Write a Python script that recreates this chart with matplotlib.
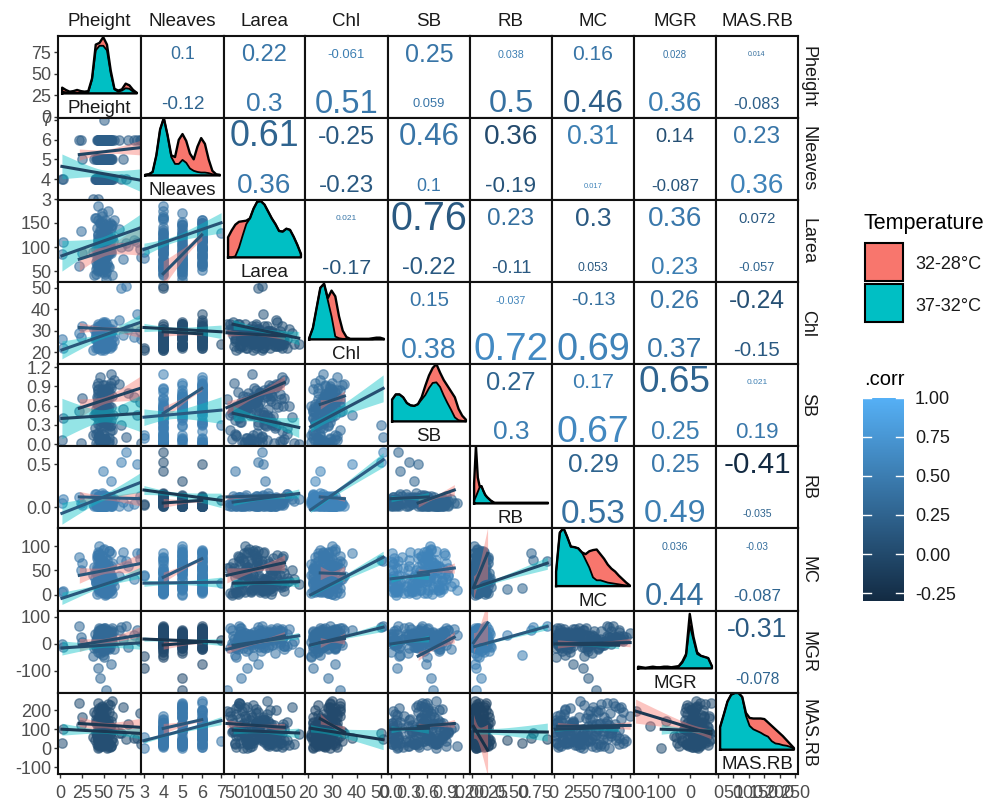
import matplotlib
matplotlib.use("Agg")
import matplotlib.pyplot as plt
from matplotlib.colors import LinearSegmentedColormap
from matplotlib.patches import Rectangle
import numpy as np

plt.rcParams["font.family"] = ["Liberation Sans", "DejaVu Sans"]

names = ["Pheight", "Nleaves", "Larea", "Chl", "SB", "RB", "MC", "MGR", "MAS.RB"]

# observations, group 32-28 first (42 rows) then 37-32 (42 rows)
pheight = [45,48,52,41,55,50,47,43,58,53, 49,44,56,51,46,60,42,54,48,57, 39,50,45,52,47,62,44,55,41,49, 53,46,58,43,51,22,25,68,72,78, 85,92,
           46,51,43,56,48,53,41,59,50,45, 54,47,40,52,44,57,49,61,46,42, 55,50,38,53,48,60,45,51,43,56, 47,52,41,58,49,2,3,24,70,76, 88,93]
nleaves = [5,6,6,5,6,5,6,5,6,6, 5,6,6,5,6,6,5,6,5,6, 5,6,5,6,5,6,6,5,4,6, 5,5,6,5,6,6,5,6,5,6, 6,6,
           4,4,4,5,4,4,4,5,4,4, 5,4,4,4,4,6,4,4,5,4, 4,6,3,4,4,5,4,7,3,4, 4,6,4,5,4,4,4,6,4,4, 6,6]
larea = [70,120,95,55,135,82,110,60,145,100, 48,125,90,75,150,118,65,105,58,130, 42,98,72,140,85,155,112,62,45,128, 35,65,100,92,122,60,88,138,76,102, 115,96,
         88,62,118,105,75,130,95,140,55,108, 125,68,160,83,185,150,72,112,135,58, 175,128,90,48,120,145,65,130,78,102, 92,155,70,115,52,85,110,133,100,108, 110,80]
chl = [28,30,32,26,29,31,27,33,30,28, 34,29,31,27,32,30,26,28,33,29, 31,27,30,34,28,25,32,29,30,27, 33,28,31,26,30,29,32,35,28,31, 27,30,
       25,23,27,24,22,26,28,24,21,25, 27,23,26,29,24,22,25,27,23,30, 24,26,21,28,25,23,27,24,22,29, 26,24,28,23,25,26,22,27,50,51, 38,26]
sb = [.62,.85,.70,.55,.88,.66,.78,.60,.95,.72, .52,.80,.74,.58,1.05,.75,.62,.82,.50,.90, .45,.68,.64,.92,.60,1.0,.84,.56,.48,.76, .70,.66,.58,.62,.86,.52,.72,.94,.54,.80, .74,.66,
      .05,.35,.45,.10,.55,.35,.02,.30,.60,.12, .40,.50,.25,.08,.0,.20,.03,.45,.28,.42, .02,.33,.14,.55,.42,.05,.62,.30,.10,.03, .0,.08,.48,.38,.15,.06,.40,.02,.30,.11, .45,.02]
rb = [.02,.05,.03,.01,.08,.04,.02,.06,.03,.01, .04,.02,.07,.03,.05,.02,.01,.06,.04,.03, .02,.08,.01,.05,.03,.1,.02,.04,.06,.01, .03,.07,.02,.05,.04,.12,.03,.02,.06,.01, .04,.13,
      .08,.12,.05,.1,.14,.07,.03,.11,.06,.13, .09,.04,.15,.08,.1,.06,.12,.05,.02,.11, .07,.09,.04,.13,.16,.06,.1,.08,.03,.12, .03,.05,.07,.3,.42,.05,.1,.05,.52,.64, .5,.09]
mc = [85,30,60,45,20,95,10,70,40,55, 65,15,90,50,25,35,75,5,80,42, 58,68,100,33,72,18,28,62,48,52, 55,45,25,82,12,78,66,38,88,59, 32,74,
      12,5,30,20,45,8,25,60,3,18, 40,10,35,15,22,55,6,28,50,2, 33,14,40,4,17,65,9,24,38,38, 19,7,27,12,15,5,8,50,72,70, 85,85]
mgr = [20,35,10,-10,45,25,5,30,50,15, -5,40,28,12,55,18,0,38,22,33, -15,8,42,60,26,-20,16,48,2,30, -170,-125,-75,24,44,65,6,52,19,-12, 34,11,
       -5,15,30,0,-25,40,8,20,-50,12, 25,-15,35,5,-30,18,2,45,-35,22, 10,55,-45,28,-10,6,58,16,-90,38, 10,-8,14,32,-40,0,-10,25,62,65, 50,28]
mas_rb = [210,60,130,180,95,40,150,240,85,125, 90,200,30,160,110,250,65,140,220,75, 190,105,170,40,120,100,50,230,155,70, 195,115,145,45,135,235,165,80,215,125, 55,185,
          95,30,15,120,40,85,130,10,65,55, 20,100,45,150,75,5,110,35,12,70, 25,90,60,130,22,50,85,40,0,100, 55,18,80,45,28,30,100,120,80,50, 55,20]
columns = [pheight, nleaves, larea, chl, sb, rb, mc, mgr, mas_rb]
n_first = 42

# further observations that fill the central clouds of the scatter panels
pheight_more = [44,47,50,53,46,49,52,55,43,48, 51,54,57,42,45,50,53,47,56,49, 44,52,46,59,48,51,43,55,50,47,
                53,45,58,49,52,41,54,46,50,48, 56,44,51,47,53,49,60,45,52,50, 46,54,42,57,49,51,44,55,48,52]
nleaves_more = [4,6,5,4,6,5,4,6,5,4, 6,4,5,6,4,5,6,4,5,6, 4,5,6,4,5,6,4,5,6,4, 5,6,4,5,6,4,5,4,6,5, 4,6,5,4,6,5,4,6,4,5, 6,4,5,4,6,5,4,6,5,4]
larea_more = [105,85,130,60,150,95,75,115,50,165, 70,125,90,140,55,110,80,135,100,65, 155,45,120,88,170,72,98,145,62,108,
              128,52,92,118,78,160,68,102,138,82, 58,112,148,74,96,122,42,86,132,106, 66,142,76,116,94,54,126,84,152,100]
chl_more = [27,24,30,22,26,33,25,28,23,31, 26,29,24,27,32,22,28,25,30,23, 27,31,24,26,29,33,23,28,25,21,
            30,26,24,32,27,22,29,25,23,28, 31,26,24,29,22,27,33,25,28,24, 30,23,26,28,25,31,22,27,24,29]
sb_more = [.65,.1,.75,.4,.05,.85,.55,.3,.95,.6, .02,.7,.45,.9,.12,.5,.8,.25,.6,.35, .72,.08,.55,1.1,.42,.65,.18,.78,.5,.03,
           .68,.38,.88,.06,.58,.15,.75,.48,.62,.0, .82,.32,.7,.1,.52,.92,.22,.64,.44,.8, .04,.58,.74,.28,.66,.14,.86,.46,.6,.34]
rb_more = [.04,.09,.02,.12,.06,.01,.1,.03,.07,.13, .05,.02,.11,.08,.03,.14,.06,.01,.09,.04, .12,.02,.07,.05,.1,.03,.13,.06,.02,.08,
           .04,.11,.01,.09,.05,.15,.03,.07,.12,.02, .06,.1,.04,.08,.01,.13,.05,.03,.11,.07, .02,.09,.06,.12,.04,.01,.08,.1,.03,.05]
mc_more = [35,8,62,22,75,15,48,3,55,28, 68,12,40,82,6,33,58,18,90,25, 45,0,70,10,52,30,78,20,42,64,
           2,37,85,14,50,26,72,9,60,32, 44,88,16,56,24,66,4,38,76,11, 47,29,58,7,92,21,53,34,80,19]
mgr_more = [10,35,-5,25,48,2,30,-15,18,55, 8,40,-10,22,5,45,-20,28,12,38, -8,50,15,32,-2,42,20,0,58,6,
            26,-12,44,16,34,-6,24,52,4,36, -18,14,46,10,30,-4,60,20,28,-25, 12,40,2,34,18,-14,48,8,26,38]
mas_rb_more = [60,175,25,110,80,205,40,150,90,15, 130,55,225,70,5,165,100,35,190,120, 45,85,145,10,215,65,105,30,160,75,
               125,20,95,180,50,140,2,115,200,35, 88,155,28,68,135,12,170,58,98,42, 195,78,22,118,48,210,62,8,128,92]
columns_more = [pheight_more, nleaves_more, larea_more, chl_more, sb_more, rb_more, mc_more, mgr_more, mas_rb_more]

# axis ranges and ticks per variable
xlims = [(-2.5,93), (2.85,7.15), (29,198), (18.7,53), (-.05,1.31), (-.02,.68), (-2,105), (-175,81), (-6,260)]
ylims = [(-1.7,93.6), (2.95,7.1), (28,197), (14.4,52.8), (-.03,1.25), (-.24,.71), (-33,137), (-182,122), (-135,290)]
xticks = [[0,25,50,75], [3,4,5,6,7], [50,100,150], [20,30,40,50], [0,.3,.6,.9,1.2], [0,.16,.34,.53], [0,25,50,75,100], [-100,0], [0,50,100,150,200,250]]
xtick_labels = [["0","25","50","75"], ["3","4","5","6","7"], ["50","100","150"], ["20","30","40","50"], ["0.0","0.3","0.6","0.9","1.2"],
                ["0.00","0.25","0.50","0.75"], ["0","25","50","75","100"], ["-100","0"], ["0","50","100","150","200","250"]]
yticks = [[0,25,50,75], [3,4,5,6,7], [50,100,150], [20,30,40,50], [0,.3,.6,.9,1.2], [0,.5], [0,50,100], [-100,0,100], [-100,0,100,200]]
ytick_labels = [["0","25","50","75"], ["3","4","5","6","7"], ["50","100","150"], ["20","30","40","50"], ["0.0","0.3","0.6","0.9","1.2"],
                ["0.0","0.5"], ["0","50","100"], ["-100","0","100"], ["-100","0","100","200"]]

# correlation labels of the upper triangle, row by row
corr_top = ["0.1","0.22","-0.061","0.25","0.038","0.16","0.028","0.014",
            "0.61","-0.25","0.46","0.36","0.31","0.14","0.23",
            "0.021","0.76","0.23","0.3","0.36","0.072",
            "0.15","-0.037","-0.13","0.26","-0.24",
            "0.27","0.17","0.65","0.021",
            "0.29","0.25","-0.41",
            "0.036","-0.03",
            "-0.31"]
corr_bottom = ["-0.12","0.3","0.51","0.059","0.5","0.46","0.36","-0.083",
               "0.36","-0.23","0.1","-0.19","0.017","-0.087","0.36",
               "-0.17","-0.22","-0.11","0.053","0.23","-0.057",
               "0.38","0.72","0.69","0.37","-0.15",
               "0.3","0.67","0.25","0.19",
               "0.53","0.49","-0.035",
               "0.44","-0.087",
               "-0.078"]
shade_top = [.35,.42,.5,.42,.5,.42,.42,.35, .25,.15,.42,0,.5,.05,.42, .42,.15,.35,.15,.45,.15, .42,.55,.35,.42,.05, .25,.5,.25,.5, .25,.45,-.3, .35,.35, .15]
shade_bottom = [.25,.45,.45,.42,.38,.2,.5,.2, .45,.15,.45,.1,.55,.1,.55, .1,.15,.15,.15,.5,.25, .52,.62,.55,.42,.15, .5,.6,.5,.45, .38,.5,.25, .35,.25, .25]

# colour of the points in the lower triangle, row by row
shade_points = [.2, .35,.4, .45,.05,.1, .2,.5,.2,.35, .5,.05,.4,.55,.25, .45,.5,.15,.45,.55,.25,
                .3,0,.4,.35,.4,.5,.15, .05,.45,.1,0,.2,-.05,.2,.05]

# fitted lines of the lower triangle: y at left end, y at right end, band half width
fit_first = [(5.25,5.6,.35),
             (75,115,30),(45,125,25),
             (31.5,30,3),(29.5,28.5,2),(29,27.5,1.5),
             (.56,.87,.18),(.48,.87,.1),(.57,.96,.1),(.62,.75,.08),
             (.12,.10,.08),(.05,.08,.05),(.12,.14,.03),(.12,.1,.03),(.05,.2,.06),
             (40,64,20),(36,74,10),(40,66,15),(45,43,15),(45,55,10),(15,85,50),
             (-4,33,30),(-4,7,15),(-20,30,15),(5,20,20),(-45,25,20),(4,78,80),(0,5,15),
             (130,110,45),(104,150,25),(130,110,20),(155,85,30),(115,130,20),(115,-10,130),(115,120,20),(195,75,60)]
fit_second = [(4.65,3.95,.6),
              (82,140,30),(95,150,20),
              (21,34,4),(31.5,29.5,3),(33,26.5,3),
              (.40,.48,.3),(.42,.53,.2),(.48,.26,.15),(.27,.87,.2),
              (-.07,.29,.12),(.2,.08,.08),(.06,.16,.05),(-.03,.55,.08),(.10,.12,.05),
              (-7,46,12),(24,26,10),(24,27,10),(0,77,12),(33,42,10),(15,65,12),
              (-15,4,25),(18,7,12),(-5,30,12),(-4,62,15),(0,20,12),(-10,65,12),(0,-5,12),
              (100,78,30),(40,145,20),(95,80,25),(105,45,50),(100,105,25),(90,85,45),(100,110,20),(100,90,25)]

# density heights on the diagonal, stacked outline and lower (37-32) part
density_total = [
    [.10,.06,.03,.04,.06,.04,.03,.04,.26,.85,.88,.98,.85,.40,.08,.05,.07,.17,.14,.06,.01],
    [.01,.02,.06,.35,.80,1.0,.70,.35,.32,.62,.72,.60,.38,.28,.50,.65,.55,.28,.08,.02,.01],
    [.35,.47,.57,.62,.63,.64,.68,.85,.97,.98,.92,.80,.68,.58,.46,.45,.50,.48,.36,.22,.06],
    [.02,.20,.55,.90,.97,.72,.85,.75,.40,.15,.04,.01,.01,.01,.01,.01,.01,.02,.03,.03,.01],
    [.38,.47,.47,.42,.32,.28,.27,.30,.42,.62,.80,.93,1.0,.85,.72,.62,.52,.42,.22,.10,.03],
    [.35,1.0,.45,.30,.30,.22,.15,.11,.08,.05,.03,.01] + [.01] * 29,
    [.25,.92,1.0,.85,.68,.67,.65,.58,.55,.60,.62,.63,.55,.47,.37,.30,.25,.18,.12,.06,.01],
    [.03,.02,.01,.02,.03,.02,.02,.03,.03,.02,.03,.04,.12,.25,.95,.55,.28,.22,.20,.18,.04],
    [.40,.62,.85,.97,1.0,1.0,.93,.65,.56,.55,.55,.55,.54,.48,.42,.36,.30,.24,.17,.10,.03]]
density_lower = [
    [.03,.02,.02,.02,.01,.01,.01,.02,.24,.75,.83,.83,.75,.35,.07,.03,.05,.09,.08,.03,.01],
    [.01,.02,.06,.35,.80,1.0,.70,.32,.20,.20,.27,.22,.12,.08,.06,.05,.05,.04,.02,.01,.0],
    [.0,.0,.02,.17,.38,.58,.68,.85,.97,.98,.92,.80,.68,.58,.46,.45,.50,.48,.36,.22,.06],
    [.02,.20,.55,.90,.97,.68,.40,.05,.02,.01,.01,.0,.0,.0,.0,.0,.0,.0,.01,.02,.0],
    [.38,.47,.47,.42,.32,.28,.27,.30,.38,.46,.58,.67,.68,.60,.45,.32,.20,.07,.02,.01,.0],
    [.05,.12,.20,.28,.30,.22,.15,.11,.08,.05,.03,.01] + [.01] * 29,
    [.25,.92,1.0,.85,.68,.67,.65,.58,.45,.32,.15,.10,.10,.08,.06,.05,.04,.03,.02,.01,.0],
    [.01,.01,.0,.01,.01,.01,.01,.01,.01,.01,.02,.03,.10,.22,.75,.50,.25,.22,.20,.18,.04],
    [.40,.62,.85,.97,1.0,1.0,.93,.60,.42,.36,.33,.30,.26,.23,.15,.11,.10,.08,.07,.05,.02]]

legend_labels = ["32-28°C", "37-32°C"]
colorbar_ticks = [1.0, .75, .5, .25, 0, -.25]
colorbar_labels = ["1.00", "0.75", "0.50", "0.25", "0.00", "-0.25"]

W, H = 987, 801
xedges = [58, 141, 224, 305, 388, 470, 552, 634, 716, 798]
yedges = [36, 118, 200, 282, 364, 446, 528, 611, 693, 774]
red, teal = "#F8766D", "#00BFC4"
tick_col = "#4D4D4D"
text_col = "#1A1A1A"
cmap = LinearSegmentedColormap.from_list("corr", ["#132B43", "#56B1F7"])
vmin, vmax = -.3, 1.0


def shade(v):
    return cmap((v - vmin) / (vmax - vmin))


def text_size(label):
    # glyph size grows with |r|
    em = np.interp(abs(float(label)), [.014,.03,.06,.087,.12,.16,.25,.36,.5,.65,.76],
                   [7,10,13,17,19,21,25,28,32.5,37,39.5])
    return em * .72


def draw_fit(ax, x, fit, colour, line_colour):
    x = np.asarray(x, dtype=float)
    xs = np.linspace(x.min(), x.max(), 40)
    centre = x.mean()
    reach = max(x.max() - centre, centre - x.min())
    ys = fit[0] + (fit[1] - fit[0]) * (xs - x.min()) / (x.max() - x.min())
    band = fit[2] * np.sqrt(.1 + ((xs - centre) / reach) ** 2)
    ax.fill_between(xs, ys - band, ys + band, color=colour, alpha=.42, lw=0, zorder=3)
    ax.plot(xs, ys, color=line_colour, lw=2.2, zorder=4)


fig = plt.figure(figsize=(W / 100, H / 100), dpi=100)
fig.patch.set_facecolor("white")

k_lower = 0
k_upper = 0
for i in range(9):
    for j in range(9):
        ax = fig.add_axes([xedges[j] / W, 1 - yedges[i + 1] / H,
                           (xedges[j + 1] - xedges[j]) / W, (yedges[i + 1] - yedges[i]) / H])
        ax.set_xlim(xlims[j])
        ax.set_ylim(ylims[i])
        for s in ax.spines.values():
            s.set_linewidth(1.5)
            s.set_color("#111111")
            s.set_zorder(10)

        if i > j:
            x = np.array(columns[j], dtype=float)
            y = np.array(columns[i], dtype=float)
            c = shade(shade_points[k_lower])
            line_c = [v * .72 for v in c[:3]]
            ax.scatter(columns_more[j], columns_more[i], s=46, color=c, alpha=.55, linewidths=1.0, zorder=2)
            ax.scatter(x, y, s=46, color=c, alpha=.55, linewidths=1.0, zorder=2)
            draw_fit(ax, x[:n_first], fit_first[k_lower], red, line_c)
            draw_fit(ax, x[n_first:], fit_second[k_lower], teal, line_c)
            k_lower += 1
        elif i == j:
            lo, hi = xlims[j]
            span = hi - lo
            xs = np.linspace(lo + .05 * span, hi - .05 * span, len(density_total[i]))
            ylo, yhi = ylims[i]
            base = ylo + .30 * (yhi - ylo)
            scale = .70 * (yhi - ylo)
            top = base + np.array(density_total[i]) * scale
            low = base + np.array(density_lower[i]) * scale
            ax.fill_between(xs, base, top, color=red, lw=0, zorder=2)
            ax.fill_between(xs, base, low, color=teal, lw=0, zorder=3)
            ax.plot(xs, low, color="black", lw=1.3, zorder=4)
            ax.plot(np.r_[xs[0], xs, xs[-1], xs[0]], np.r_[base, top, base, base],
                    color="black", lw=1.7, zorder=5)
            ax.text(.5, .12, names[i], transform=ax.transAxes, ha="center", va="center",
                    fontsize=13.5, color=text_col)
        else:
            ax.text(.5, .77, corr_top[k_upper], transform=ax.transAxes, ha="center", va="center",
                    fontsize=text_size(corr_top[k_upper]), color=shade(shade_top[k_upper]))
            ax.text(.5, .17, corr_bottom[k_upper], transform=ax.transAxes, ha="center", va="center",
                    fontsize=text_size(corr_bottom[k_upper]), color=shade(shade_bottom[k_upper]))
            k_upper += 1

        ax.set_xticks(xticks[j] if i == 8 else [])
        if i == 8:
            ax.set_xticklabels(xtick_labels[j])
        ax.set_yticks(yticks[i] if j == 0 else [])
        if j == 0:
            ax.set_yticklabels(ytick_labels[i])
        ax.tick_params(axis="both", length=3, width=1, color="#333333", labelcolor=tick_col,
                       labelsize=13, pad=2)
        ax.tick_params(axis="x", pad=5)

for j in range(9):
    fig.text((xedges[j] + xedges[j + 1]) / 2 / W, 1 - 22 / H, names[j], ha="center", va="center",
             fontsize=13.5, color=text_col)
    fig.text(808 / W, 1 - (yedges[j] + yedges[j + 1]) / 2 / H, names[j], ha="center", va="center",
             rotation=-90, fontsize=13, color=text_col)

# temperature legend
fig.text(864 / W, 1 - 223 / H, "Temperature", ha="left", va="center", fontsize=15.5, color="black")
for k, lab in enumerate(legend_labels):
    top = 243 + 41 * k
    fig.add_artist(Rectangle((865 / W, 1 - (top + 38) / H), 38 / W, 38 / H, transform=fig.transFigure,
                             facecolor=[red, teal][k], edgecolor="black", lw=1.5))
    fig.text(915 / W, 1 - (top + 22) / H, lab, ha="left", va="center", fontsize=13, color=text_col)

# .corr colour bar
fig.text(864 / W, 1 - 379 / H, ".corr", ha="left", va="center", fontsize=14.5, color="black")
cax = fig.add_axes([863 / W, 1 - 601 / H, 41 / W, 203 / H])
cax.imshow(np.linspace(vmax, vmin, 256).reshape(-1, 1), aspect="auto", cmap=cmap, vmin=vmin, vmax=vmax,
           extent=[0, 1, vmin, vmax])
cax.set_xticks([])
cax.set_yticks([])
for s in cax.spines.values():
    s.set_visible(False)
for t, lab in zip(colorbar_ticks, colorbar_labels):
    cax.plot([0, .2], [t, t], color="white", lw=1)
    cax.plot([.8, 1], [t, t], color="white", lw=1)
    cax.text(1.27, t - .012, lab, ha="left", va="center", fontsize=13, color=text_col, clip_on=False)
cax.set_xlim(0, 1)
cax.set_ylim(vmin, vmax)

fig.savefig("out.png", dpi=100)
